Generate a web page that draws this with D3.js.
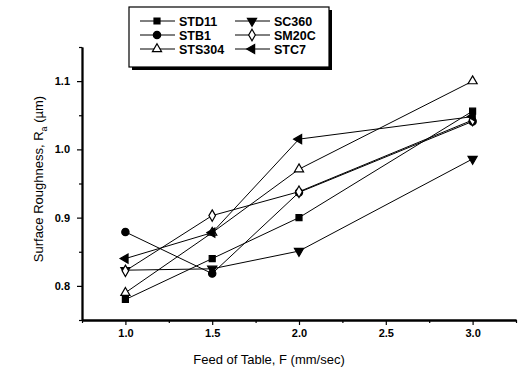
<!DOCTYPE html>
<html>
<head>
<meta charset="utf-8">
<script src="https://cdn.jsdelivr.net/npm/d3@7"></script>
<style>
  body { margin: 0; background: #fff; }
  text { font-family: "Liberation Sans", Arial, sans-serif; fill: #000; }
</style>
</head>
<body>
<svg id="graf" width="525" height="367"></svg>
<script>
// feed of table (mm/sec)
let feeds = [1.0, 1.5, 2.0, 3.0]
let std11 = [0.780, 0.840, 0.900, 1.056]
let stb1 = [0.879, 0.818, 0.937, 1.041]
let sts304 = [0.790, 0.878, 0.971, 1.100]
let sc360 = [0.823, 0.825, 0.851, 0.986]
let sm20c = [0.822, 0.903, 0.938, 1.043]
let stc7 = [0.840, 0.878, 1.015, 1.048]
let xTicks = [1.0, 1.5, 2.0, 2.5, 3.0]
let yTicks = [0.8, 0.9, 1.0, 1.1]

let series = [
  { name: 'STD11', vals: std11, sym: d3.symbolSquare, rot: 0, fill: '#000', size: 36 },
  { name: 'STB1', vals: stb1, sym: d3.symbolCircle, rot: 0, fill: '#000', size: 42 },
  { name: 'STS304', vals: sts304, sym: d3.symbolTriangle, rot: 0, fill: '#fff', size: 36 },
  { name: 'SC360', vals: sc360, sym: d3.symbolTriangle, rot: 180, fill: '#000', size: 36 },
  { name: 'SM20C', vals: sm20c, sym: d3.symbolDiamond, rot: 0, fill: '#fff', size: 38 },
  { name: 'STC7', vals: stc7, sym: d3.symbolTriangle, rot: -90, fill: '#000', size: 36 }
]

function graficar() {
  let svg = d3.select('#graf')
  let x = d3.scaleLinear().domain([0.75, 3.25]).range([82, 516])
  let y = d3.scaleLinear().domain([0.75, 1.15]).range([320, 47])

  // minor ticks
  let xMinor = d3.range(0.75, 3.26, 0.25).filter(v => !xTicks.some(t => Math.abs(t - v) < 1e-6))
  let yMinor = d3.range(0.75, 1.151, 0.05).filter(v => !yTicks.some(t => Math.abs(t - v) < 1e-6))

  let gx = svg.append('g').attr('transform', 'translate(0,320)')
  gx.call(d3.axisBottom(x).tickValues(xTicks).tickFormat(d3.format('.1f')).tickSize(5).tickSizeOuter(0).tickPadding(4))
  gx.append('g').call(d3.axisBottom(x).tickValues(xMinor).tickFormat('').tickSize(3).tickSizeOuter(0))
  let gy = svg.append('g').attr('transform', 'translate(82,0)')
  gy.call(d3.axisLeft(y).tickValues(yTicks).tickFormat(d3.format('.1f')).tickSize(5).tickSizeOuter(0).tickPadding(7))
  gy.append('g').call(d3.axisLeft(y).tickValues(yMinor).tickFormat('').tickSize(3).tickSizeOuter(0))

  svg.selectAll('.domain').attr('stroke', '#000').attr('stroke-width', 1.8)
  svg.selectAll('.tick line').attr('stroke', '#000').attr('stroke-width', 1.2)
  svg.selectAll('.tick text')
    .style('font-family', '"Liberation Sans", Arial, sans-serif')
    .style('font-size', '11px')
    .style('font-weight', 'bold')
    .attr('fill', '#000')

  // axis titles
  svg.append('text')
    .attr('x', 269).attr('y', 364)
    .attr('text-anchor', 'middle')
    .style('font-size', '13px')
    .text('Feed of Table, F (mm/sec)')

  let yt = svg.append('text')
    .attr('transform', 'translate(43,179) rotate(-90)')
    .attr('text-anchor', 'middle')
    .style('font-size', '13px')
  yt.append('tspan').text('Surface Roughness, R')
  yt.append('tspan').attr('dy', 4).style('font-size', '9px').text('a')
  yt.append('tspan').attr('dy', -4).text(' (\u00b5m)')

  let line = d3.line().x((d, i) => x(feeds[i])).y(d => y(d))

  series.forEach(s => {
    svg.append('path')
      .attr('d', line(s.vals))
      .attr('fill', 'none')
      .attr('stroke', '#000')
      .attr('stroke-width', 1)
  })

  series.forEach(s => {
    svg.selectAll(null)
      .data(s.vals)
      .enter()
      .append('path')
      .attr('d', d3.symbol().type(s.sym).size(s.size))
      .attr('transform', (d, i) => 'translate(' + x(feeds[i]) + ',' + y(d) + ') rotate(' + s.rot + ')')
      .attr('fill', s.fill)
      .attr('stroke', '#000')
      .attr('stroke-width', 1.2)
  })

  // legend
  let lg = svg.append('g')
  lg.append('rect').attr('x', 132).attr('y', 10).attr('width', 200).attr('height', 60).attr('fill', '#000')
  lg.append('rect').attr('x', 129).attr('y', 7).attr('width', 200).attr('height', 60)
    .attr('fill', '#fff').attr('stroke', '#000').attr('stroke-width', 1.2)

  let cols = [140, 235]
  series.forEach((s, i) => {
    let cx = cols[Math.floor(i / 3)]
    let cy = 21 + (i % 3) * 14
    lg.append('line').attr('x1', cx).attr('x2', cx + 35).attr('y1', cy).attr('y2', cy)
      .attr('stroke', '#000').attr('stroke-width', 1)
    lg.append('path')
      .attr('d', d3.symbol().type(s.sym).size(s.size))
      .attr('transform', 'translate(' + (cx + 17) + ',' + cy + ') rotate(' + s.rot + ')')
      .attr('fill', s.fill).attr('stroke', '#000').attr('stroke-width', 1.2)
    lg.append('text')
      .attr('x', cx + 39).attr('y', cy + 4.5)
      .style('font-size', '12.5px')
      .style('font-weight', 'bold')
      .text(s.name)
  })
}

graficar()
</script>
</body>
</html>
